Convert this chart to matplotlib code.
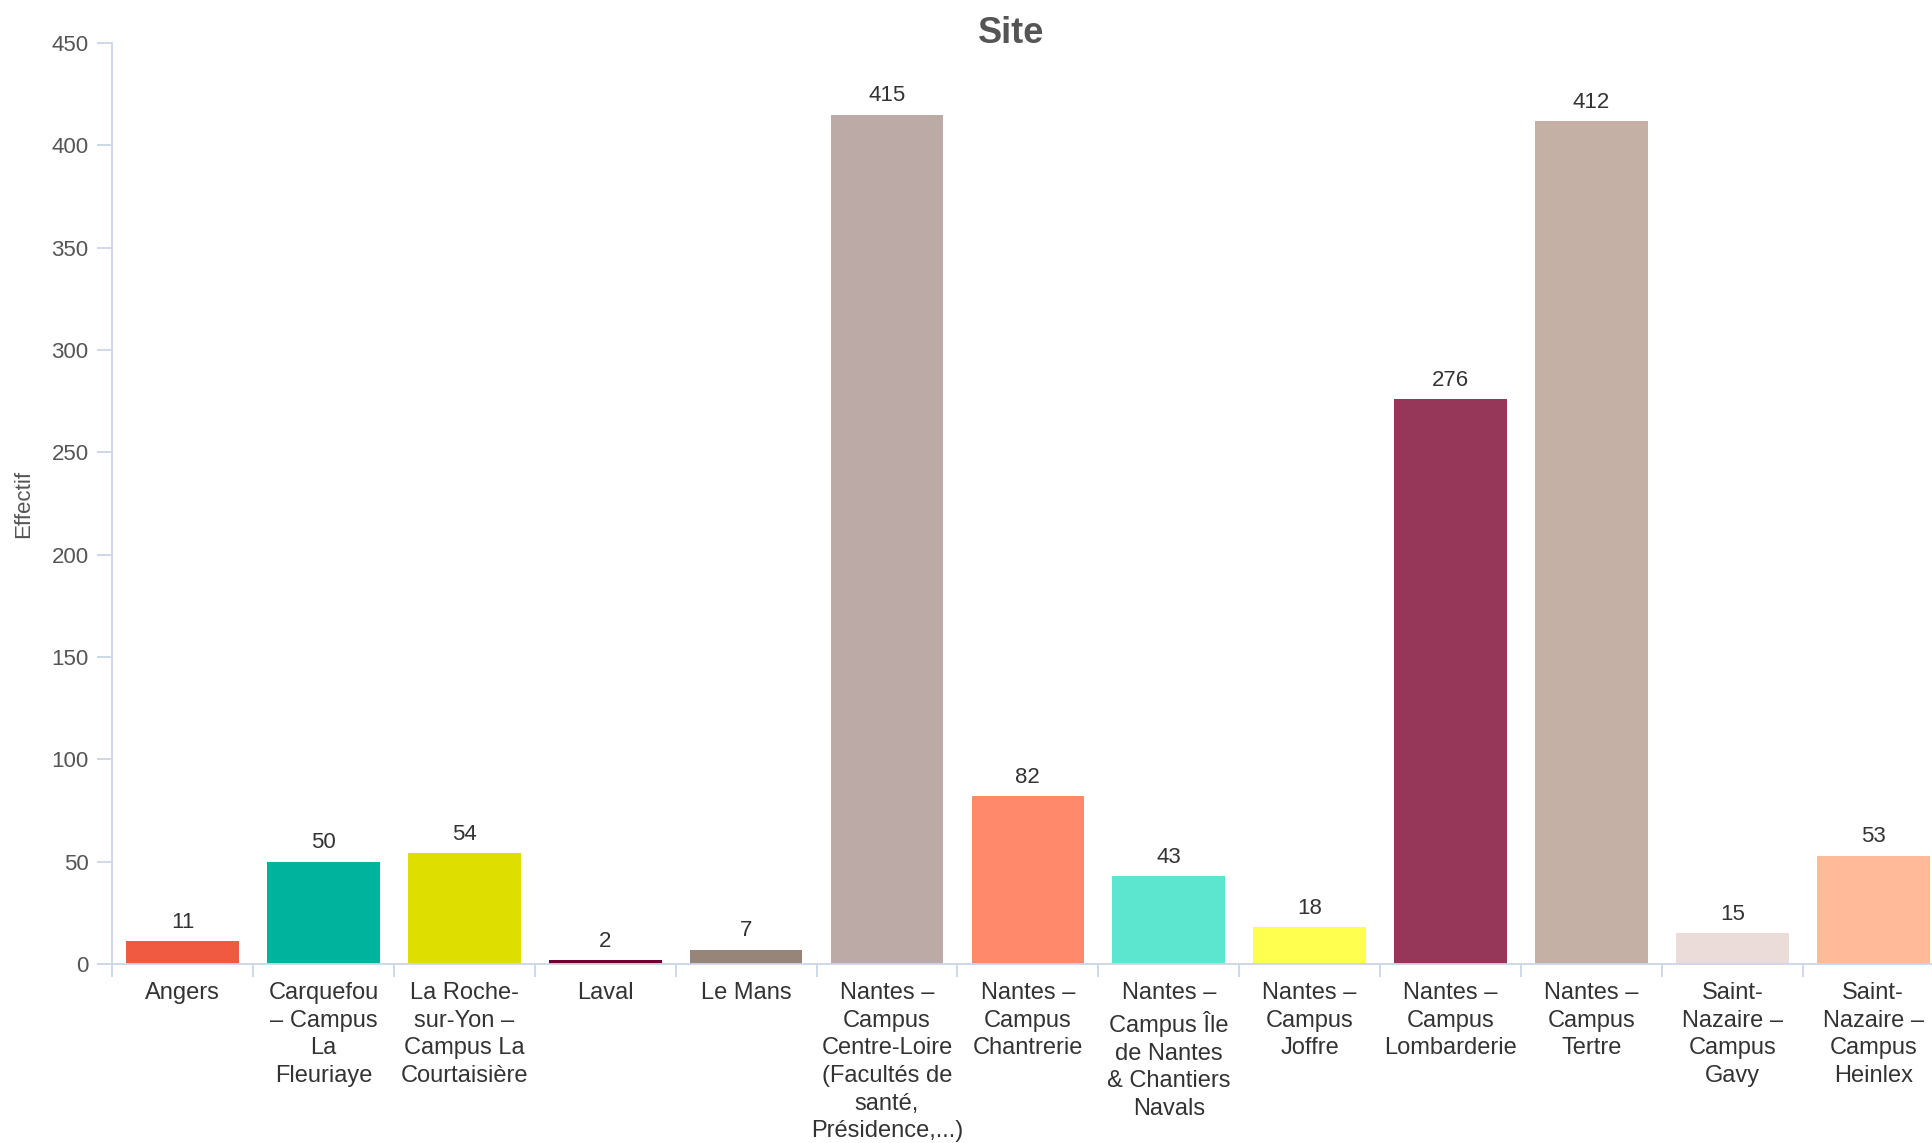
import numpy as np
import matplotlib
matplotlib.use("Agg")
import matplotlib.pyplot as plt

# effectifs par site
sites = [
    "Angers",
    "Carquefou\n– Campus\nLa\nFleuriaye",
    "La Roche-\nsur-Yon –\nCampus La\nCourtaisière",
    "Laval",
    "Le Mans",
    "Nantes –\nCampus\nCentre-Loire\n(Facultés de\nsanté,\nPrésidence,...)",
    "Nantes –\nCampus\nChantrerie",
    "Nantes –\nCampus Île\nde Nantes\n& Chantiers\nNavals",
    "Nantes –\nCampus\nJoffre",
    "Nantes –\nCampus\nLombarderie",
    "Nantes –\nCampus\nTertre",
    "Saint-\nNazaire –\nCampus\nGavy",
    "Saint-\nNazaire –\nCampus\nHeinlex",
]
effectifs = [11, 50, 54, 2, 7, 415, 82, 43, 18, 276, 412, 15, 53]
couleurs = ["#f05a40", "#00b39c", "#dede00", "#6b0030", "#968578", "#bbaaa6",
            "#ff8a6b", "#5ce6cf", "#ffff50", "#96375a", "#c4b0a5", "#ecdcd9",
            "#ffba99"]

plt.rcParams["font.family"] = ["Liberation Sans", "DejaVu Sans"]
axis_col = "#ccd6eb"

fig = plt.figure(figsize=(19.33, 11.43), dpi=100)
# la zone de tracé déborde un peu à droite de la figure
ax = fig.add_axes([0.0580, 0.1566, 0.9475, 0.8058])

x = np.arange(len(sites))
ax.bar(x, effectifs, width=0.8, color=couleurs, zorder=2)

for i, v in enumerate(effectifs):
    ax.text(i, v + 4, str(v), ha="center", va="bottom", fontsize=16, color="#333333")

ax.set_xlim(-0.5, 12.5)
ax.set_ylim(0, 450)
ax.set_yticks(range(0, 451, 50))

ax.set_xticks(x)
ax.set_xticklabels(sites, fontsize=17, color="#333333", linespacing=1.33)
ax.set_xticks(np.arange(-0.5, 12.5, 1), minor=True)
ax.tick_params(axis="x", which="major", length=0, pad=13)
ax.tick_params(axis="x", which="minor", length=9, color=axis_col, width=1.3)
ax.tick_params(axis="y", length=11, color=axis_col, width=1.3, labelsize=16,
               labelcolor="#555555", pad=6)

for s in ["top", "right"]:
    ax.spines[s].set_visible(False)
for s in ["left", "bottom"]:
    ax.spines[s].set_color(axis_col)
    ax.spines[s].set_linewidth(1.3)

ax.set_ylabel("Effectif", fontsize=16, color="#555555", labelpad=12)

fig.text(0.523, 0.971, "Site", ha="center", va="center", fontsize=26,
         fontweight="bold", color="#555555",
         family=["Liberation Sans Narrow", "Liberation Sans", "DejaVu Sans"])

fig.savefig("out.png", dpi=100)
